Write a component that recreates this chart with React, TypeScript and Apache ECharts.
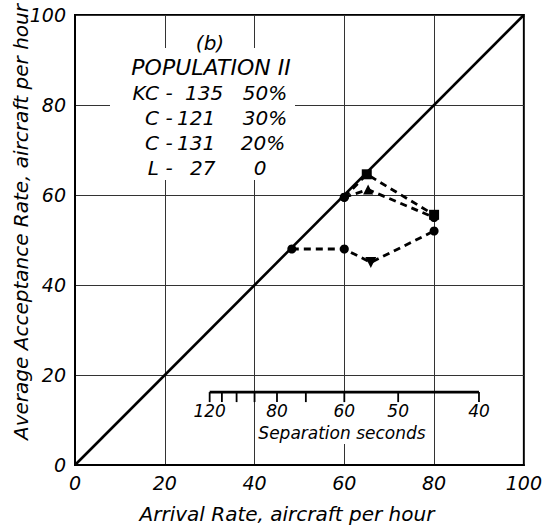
import React, { useEffect, useRef } from "react";
import * as echarts from "echarts";

// Reference diagonal (acceptance = arrival)
const diagonal = [
  [0, 0],
  [100, 100],
];
// Dashed series: [arrival rate, acceptance rate]
const seriesSquares = [
  [60, 59.5],
  [65, 64.6],
  [80, 55.6],
];
const seriesTriangles = [
  [60, 59.5],
  [65.3, 61.2],
  [80, 55.0],
];
const seriesLower = [
  [48.3, 48.0],
  [60, 48.0],
  [65.9, 45.0],
  [80, 52.0],
];
// Inset scale: separation in seconds (arrival rate = 3600 / seconds)
const separationTicks = [120, 110, 100, 90, 80, 70, 60, 50, 40];
const separationLabels = [120, 80, 60, 50, 40];
const insetLevel = 16.2;
// Population table
const populationTitle = ["(b)", "POPULATION II"];
const populationTypes = ["KC", "C", "C", "L"];
const populationModels = ["135", "121", "131", "27"];
const populationShares = ["50%", "30%", "20%", "0"];

const FONT = '"DejaVu Sans", "Liberation Sans", sans-serif';
const INK = "#000";

export default function App() {
  const ref = useRef<HTMLDivElement>(null);
  useEffect(() => {
    if (!ref.current) return;
    const chart = echarts.init(ref.current, undefined, { renderer: "svg" });

    const txt = (text: string, x: number, y: number, size = 18, align = "center", extra: any = {}) => ({
      type: "text",
      x,
      y,
      z: 5,
      style: {
        text,
        fill: INK,
        font: `italic ${size}px ${FONT}`,
        textAlign: align,
        textVerticalAlign: "middle",
      },
      ...extra,
    });

    const rowY = [93, 118, 143, 168];
    const modelX = [185, 177, 177, 190];
    const shareX = [265, 265, 263, 260];

    const graphics: any[] = [
      { type: "rect", z: 1, shape: { x: 110, y: 48, width: 185, height: 132 }, style: { fill: "#fff" } },
      { type: "rect", z: 1, shape: { x: 257, y: 397, width: 171, height: 47 }, style: { fill: "#fff" } },
      txt(populationTitle[0], 210, 43, 20),
      txt(populationTitle[1], 211, 67, 22),
      ...populationTypes.map((t, i) => txt(t, 159, rowY[i], 20, "right")),
      ...populationTypes.map((t, i) => txt("-", 169, rowY[i], 20, "center")),
      ...populationModels.map((t, i) => txt(t, modelX[i], rowY[i], 20, "left")),
      ...populationShares.map((t, i) => txt(t, shareX[i], rowY[i], 20, "center")),
      txt("Separation seconds", 342, 433, 17),
      txt("Arrival Rate, aircraft per hour", 287, 514, 20),
      txt("Average Acceptance Rate, aircraft per hour", 21, 222, 20, "center", { rotation: Math.PI / 2 }),
    ];

    const dashed = { color: INK, width: 2.8, type: [7, 5] as any };

    chart.setOption({
      animation: false,
      backgroundColor: "#fff",
      grid: {
        left: 75,
        right: 21,
        top: 15,
        bottom: 67,
        show: true,
        borderColor: INK,
        borderWidth: 2,
        backgroundColor: "transparent",
      },
      xAxis: {
        type: "value",
        min: 0,
        max: 100,
        interval: 20,
        axisLine: { show: true, lineStyle: { color: INK, width: 2 } },
        axisTick: { show: false },
        splitLine: { show: true, lineStyle: { color: "#333", width: 1 } },
        axisLabel: { color: INK, fontSize: 19, fontStyle: "italic", fontFamily: FONT, margin: 8 },
      },
      yAxis: {
        type: "value",
        min: 0,
        max: 100,
        interval: 20,
        axisLine: { show: true, lineStyle: { color: INK, width: 2 } },
        axisTick: { show: false },
        splitLine: { show: true, lineStyle: { color: "#333", width: 1 } },
        axisLabel: { color: INK, fontSize: 19, fontStyle: "italic", fontFamily: FONT, margin: 9 },
      },
      graphic: graphics,
      series: [
        {
          type: "line",
          data: diagonal,
          symbol: "none",
          lineStyle: { color: INK, width: 2.6 },
          z: 3,
        },
        {
          type: "line",
          data: seriesSquares.map((v, i) => ({ value: v, symbol: i === 0 ? "circle" : "rect", symbolSize: i === 0 ? 9 : 10 })),
          lineStyle: dashed,
          itemStyle: { color: INK },
          z: 4,
        },
        {
          type: "line",
          data: seriesTriangles.map((v, i) => ({ value: v, symbol: i === 1 ? "triangle" : "circle", symbolSize: i === 1 ? 10 : 9 })),
          lineStyle: dashed,
          itemStyle: { color: INK },
          z: 4,
        },
        {
          type: "line",
          data: seriesLower.map((v, i) => ({
            value: v,
            symbol: i === 2 ? "triangle" : "circle",
            symbolRotate: i === 2 ? 180 : 0,
            symbolSize: i === 2 ? 11 : 9,
          })),
          lineStyle: dashed,
          itemStyle: { color: INK },
          z: 4,
        },
        {
          type: "line",
          data: [
            [3600 / separationTicks[0], insetLevel],
            [3600 / separationTicks[separationTicks.length - 1], insetLevel],
          ],
          symbol: "none",
          lineStyle: { color: INK, width: 2.8 },
          z: 4,
        },
        {
          type: "custom",
          z: 4,
          data: separationTicks.map((s) => [3600 / s, s]),
          renderItem: (params: any, api: any) => {
            const s = api.value(1);
            const p = api.coord([api.value(0), insetLevel]);
            const children: any[] = [
              {
                type: "line",
                shape: { x1: p[0], y1: p[1], x2: p[0], y2: p[1] + 10 },
                style: { stroke: INK, lineWidth: 1.8 },
              },
            ];
            if (separationLabels.includes(s)) {
              children.push({
                type: "text",
                x: p[0],
                y: p[1] + 19,
                style: {
                  text: String(s),
                  fill: INK,
                  font: `italic 17px ${FONT}`,
                  textAlign: "center",
                  textVerticalAlign: "middle",
                },
              });
            }
            return { type: "group", children };
          },
        },
      ],
    });
    return () => chart.dispose();
  }, []);
  return <div ref={ref} style={{ width: 545, height: 532, position: "absolute", left: 0, top: 0 }} />;
}
